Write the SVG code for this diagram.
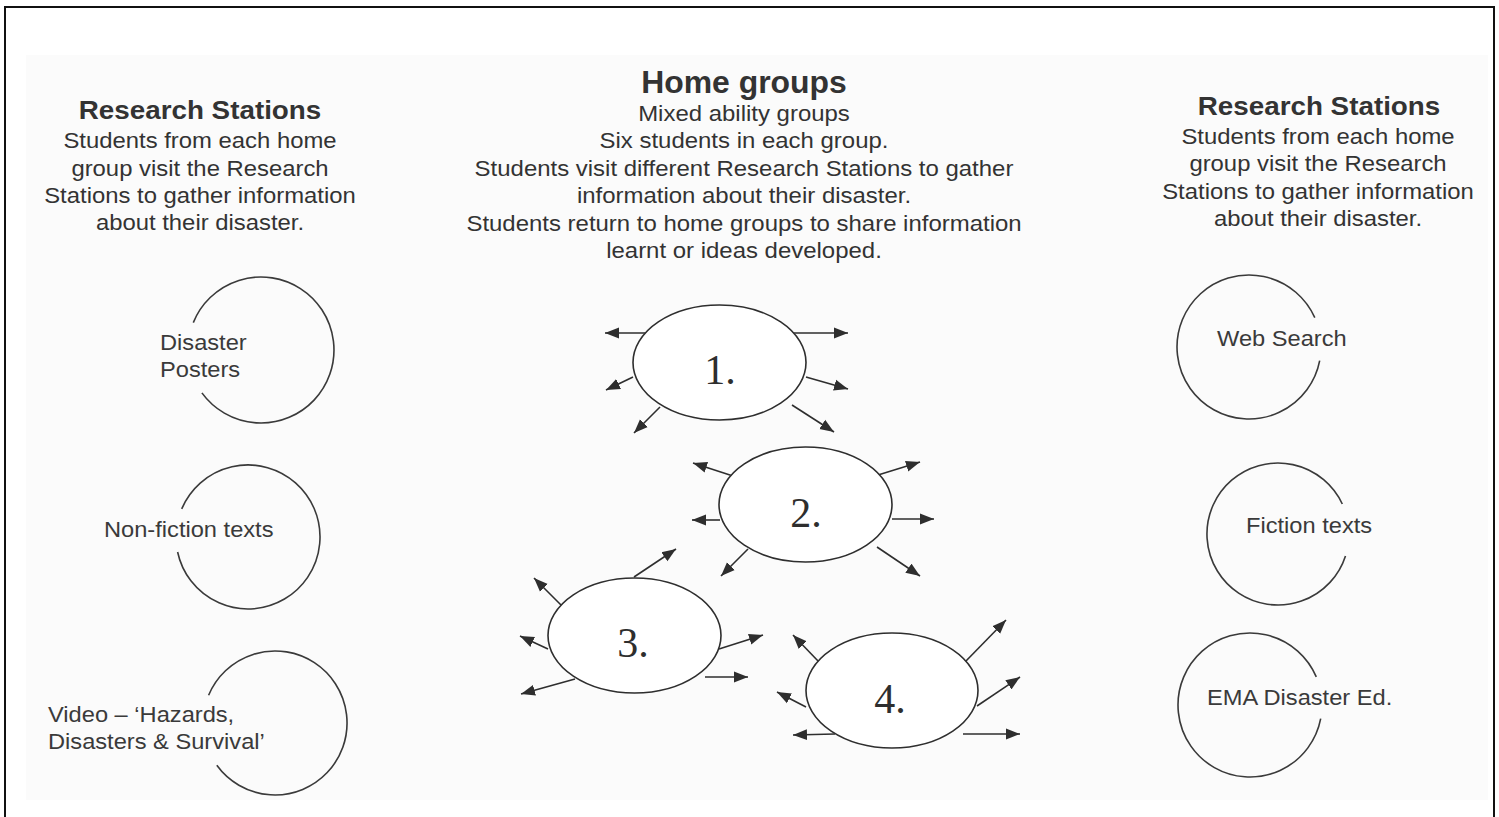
<svg xmlns="http://www.w3.org/2000/svg" width="1499" height="817" viewBox="0 0 1499 817">
  <style>
    .head { font-family: "Liberation Sans", Arial, sans-serif; font-weight: bold; fill: #333; text-anchor: middle; }
    .body { font-family: "Liberation Sans", Arial, sans-serif; font-size: 21.5px; fill: #333; text-anchor: middle; }
    .lbl { font-family: "Liberation Sans", Arial, sans-serif; font-size: 21.5px; fill: #3a3a3a; }
    .num { font-family: "Liberation Serif", "Times New Roman", serif; font-size: 42px; fill: #2e2e2e; text-anchor: middle; }
    .ring { fill: none; stroke: #3a3a3a; stroke-width: 1.6; }
    .grp { fill: #fff; stroke: #2e2e2e; stroke-width: 1.6; }
    .arr { fill: none; stroke: #2e2e2e; stroke-width: 1.6; marker-end: url(#head); }
  </style>
  <defs>
    <marker id="head" markerUnits="userSpaceOnUse" markerWidth="16" markerHeight="12" refX="14" refY="6" orient="auto">
      <path d="M0,0.5 L14,6 L0,11.5 Z" fill="#2e2e2e"/>
    </marker>
  </defs>

  <!-- page and frame -->
  <rect x="0" y="0" width="1499" height="817" fill="#fff"/>
  <rect x="26" y="55" width="1462" height="745" fill="#fbfbfb"/>
  <path d="M5,830 L5,7 L1494,7 L1494,830" fill="none" stroke="#111" stroke-width="2"/>

  <!-- left column: research stations -->
  <g id="left-stations-heading">
    <text class="head" x="0" y="119" font-size="26" transform="translate(200,0) scale(1.07,1)">Research Stations</text>
    <g transform="translate(200,0) scale(1.11,1)">
      <text class="body" x="0" y="148">Students from each home</text>
      <text class="body" x="0" y="176">group visit the Research</text>
      <text class="body" x="0" y="203">Stations to gather information</text>
      <text class="body" x="0" y="230">about their disaster.</text>
    </g>
  </g>
  <g id="station-posters">
    <path class="ring" d="M193.3,322.6 A73,73 0 1 1 201.9,392.9"/>
    <g transform="translate(160,0) scale(1.1,1)">
      <text class="lbl" x="0" y="350">Disaster</text>
      <text class="lbl" x="0" y="377">Posters</text>
    </g>
  </g>
  <g id="station-nonfiction">
    <path class="ring" d="M181.7,508.9 A72,72 0 1 1 177.6,552"/>
    <text class="lbl" x="0" y="537" transform="translate(104,0) scale(1.1,1)">Non-fiction texts</text>
  </g>
  <g id="station-video">
    <path class="ring" d="M208.6,695.2 A72,72 0 1 1 216.8,765.3"/>
    <g transform="translate(48,0) scale(1.1,1)">
      <text class="lbl" x="0" y="722">Video – ‘Hazards,</text>
      <text class="lbl" x="0" y="749">Disasters &amp; Survival’</text>
    </g>
  </g>

  <!-- centre: home groups -->
  <g id="home-groups-heading">
    <text class="head" x="0" y="93" font-size="31" transform="translate(744,0) scale(1.03,1)">Home groups</text>
    <g transform="translate(744,0) scale(1.115,1)">
      <text class="body" x="0" y="121">Mixed ability groups</text>
      <text class="body" x="0" y="148">Six students in each group.</text>
      <text class="body" x="0" y="176">Students visit different Research Stations to gather</text>
      <text class="body" x="0" y="203">information about their disaster.</text>
      <text class="body" x="0" y="231">Students return to home groups to share information</text>
      <text class="body" x="0" y="258">learnt or ideas developed.</text>
    </g>
  </g>

  <!-- right column: research stations -->
  <g id="right-stations-heading">
    <text class="head" x="0" y="115" font-size="26" transform="translate(1319,0) scale(1.07,1)">Research Stations</text>
    <g transform="translate(1318,0) scale(1.11,1)">
      <text class="body" x="0" y="144">Students from each home</text>
      <text class="body" x="0" y="171">group visit the Research</text>
      <text class="body" x="0" y="199">Stations to gather information</text>
      <text class="body" x="0" y="226">about their disaster.</text>
    </g>
  </g>
  <g id="station-web">
    <path class="ring" d="M1319.7,360.7 A72,72 0 1 1 1314.8,317.7"/>
    <text class="lbl" x="0" y="346" transform="translate(1217,0) scale(1.1,1)">Web Search</text>
  </g>
  <g id="station-fiction">
    <path class="ring" d="M1345.5,555.9 A71,71 0 1 1 1342.3,504"/>
    <text class="lbl" x="0" y="533" transform="translate(1246,0) scale(1.1,1)">Fiction texts</text>
  </g>
  <g id="station-ema">
    <path class="ring" d="M1320.7,718.7 A72,72 0 1 1 1316.3,676.9"/>
    <text class="lbl" x="0" y="705" transform="translate(1207,0) scale(1.1,1)">EMA Disaster Ed.</text>
  </g>

  <!-- arrows leading out from each home group -->
  <g id="connectors">
    <!-- group 1 -->
    <line class="arr" x1="647" y1="333" x2="605" y2="333"/>
    <line class="arr" x1="792" y1="333" x2="848" y2="333"/>
    <line class="arr" x1="633" y1="377" x2="606" y2="390"/>
    <line class="arr" x1="806" y1="377" x2="848" y2="389"/>
    <line class="arr" x1="660" y1="407" x2="634" y2="433"/>
    <line class="arr" x1="792" y1="405" x2="834" y2="432"/>
    <!-- group 2 -->
    <line class="arr" x1="733" y1="476" x2="693" y2="463"/>
    <line class="arr" x1="720" y1="520" x2="692" y2="520"/>
    <line class="arr" x1="748" y1="549" x2="721" y2="576"/>
    <line class="arr" x1="878" y1="475" x2="920" y2="462"/>
    <line class="arr" x1="892" y1="519" x2="934" y2="519"/>
    <line class="arr" x1="877" y1="547" x2="920" y2="576"/>
    <!-- group 3 -->
    <line class="arr" x1="634" y1="577" x2="676" y2="549"/>
    <line class="arr" x1="563" y1="607" x2="534" y2="578"/>
    <line class="arr" x1="548" y1="649" x2="520" y2="636"/>
    <line class="arr" x1="575" y1="679" x2="521" y2="694"/>
    <line class="arr" x1="719" y1="649" x2="763" y2="635"/>
    <line class="arr" x1="705" y1="677" x2="748" y2="677"/>
    <!-- group 4 -->
    <line class="arr" x1="819" y1="662" x2="793" y2="635"/>
    <line class="arr" x1="806" y1="707" x2="777" y2="692"/>
    <line class="arr" x1="835" y1="734" x2="793" y2="735"/>
    <line class="arr" x1="965" y1="662" x2="1006" y2="620"/>
    <line class="arr" x1="977" y1="706" x2="1020" y2="677"/>
    <line class="arr" x1="963" y1="734" x2="1020" y2="734"/>
  </g>

  <g id="group-1">
    <ellipse class="grp" cx="719.5" cy="362.5" rx="86.5" ry="57.5"/>
    <text class="num" x="720" y="384">1.</text>
  </g>
  <g id="group-2">
    <ellipse class="grp" cx="805.5" cy="504.5" rx="86.5" ry="57.5"/>
    <text class="num" x="806" y="527">2.</text>
  </g>
  <g id="group-3">
    <ellipse class="grp" cx="634.5" cy="635.5" rx="86.5" ry="57.5"/>
    <text class="num" x="633" y="657">3.</text>
  </g>
  <g id="group-4">
    <ellipse class="grp" cx="892" cy="690.5" rx="86" ry="57.5"/>
    <text class="num" x="890" y="713">4.</text>
  </g>
</svg>
